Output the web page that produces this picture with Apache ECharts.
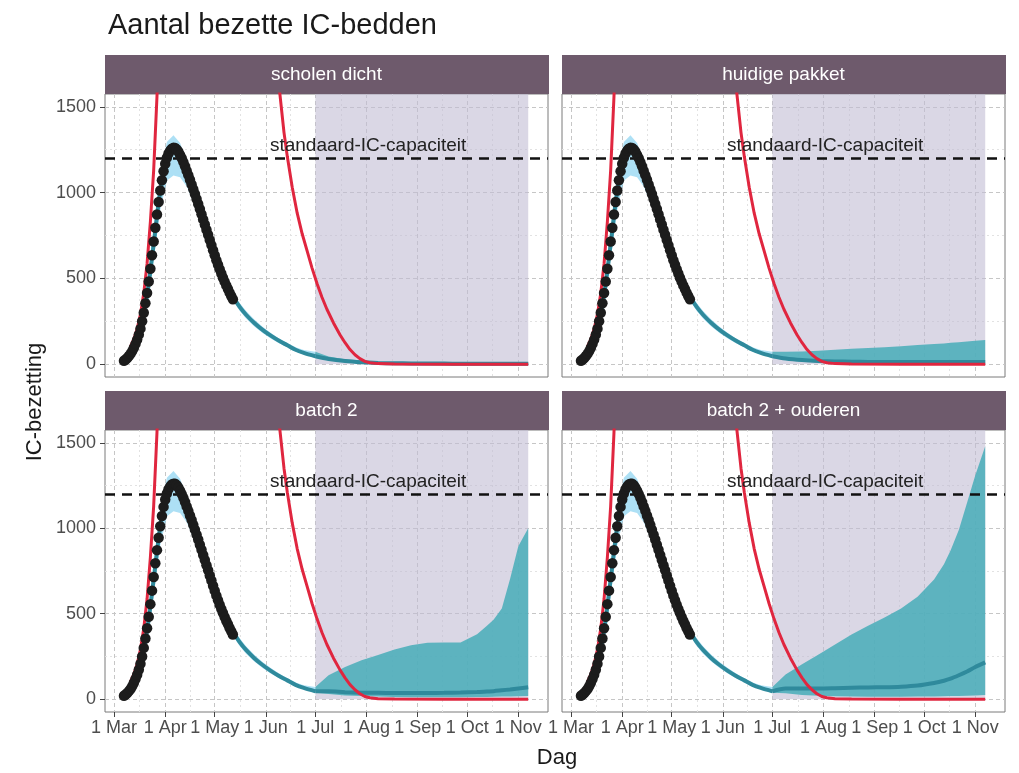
<!DOCTYPE html>
<html><head><meta charset="utf-8">
<script src="https://cdn.jsdelivr.net/npm/echarts@6/dist/echarts.min.js"></script>
<style>html,body{margin:0;padding:0;background:#fff}#c{width:1019px;height:773px}</style>
</head><body><div id="c"></div>
<script>
// ---------- data ----------
const chartTitle = 'Aantal bezette IC-bedden';
const yAxisTitle = 'IC-bezetting';
const xAxisTitle = 'Dag';
const panelTitles = ['scholen dicht', 'huidige pakket', 'batch 2', 'batch 2 + ouderen'];

// x in days since 1 March
const monthDays = [0, 31, 61, 92, 122, 153, 184, 214, 245];
const tickLabels = ['1 Mar', '1 Apr', '1 May', '1 Jun', '1 Jul', '1 Aug', '1 Sep', '1 Oct', '1 Nov'];
const minorXDays = [15.5, 46, 76.5, 107, 137.5, 168.5, 199, 229.5];
const yTicks = [0, 500, 1000, 1500];
const yMinorTicks = [250, 750, 1250];

const capacity = 1200;
const capacityLabel = 'standaard-IC-capaciteit';
const capacityLabelDay = 154;
const capacityLabelValue = 1272;
const scenarioStart = 122;
const scenarioEnd = 251;

// observed IC occupancy, daily from day 6
const obsStartDay = 6;
const obsValues = [20, 27, 36, 47, 60, 76, 96, 118, 143, 172, 207, 250, 300, 355, 415, 482, 556, 635, 715, 795,
  872, 945, 1012, 1072, 1125, 1168, 1203, 1228, 1245, 1256, 1261, 1260, 1252, 1238, 1220, 1200, 1178, 1154, 1128,
  1102, 1075, 1048, 1020, 992, 963, 934, 904, 874, 844, 814, 784, 754, 724, 694, 664, 635, 606, 579, 553, 528,
  504, 481, 459, 438, 417, 397, 378];

// model fit (common to all scenarios)
const modelDays = [4, 8, 12, 16, 20, 24, 28, 32, 36, 40, 44, 48, 52, 56, 60, 64, 68, 72, 76, 80, 85, 90, 95, 100, 105, 110, 115, 122];
const modelMedian = [10, 32, 90, 200, 400, 700, 1010, 1200, 1255, 1215, 1125, 1010, 900, 790, 680, 575, 480, 395, 335, 288, 240, 200, 166, 136, 110, 84, 66, 46];
const bandLower = [5, 22, 70, 165, 340, 610, 900, 1070, 1100, 1090, 1035, 945, 845, 745, 645, 545, 455, 372, 312, 266, 220, 182, 150, 122, 98, 74, 56, 38];
const bandUpper = [18, 48, 115, 240, 465, 790, 1110, 1295, 1335, 1290, 1190, 1072, 957, 838, 722, 612, 512, 422, 358, 310, 260, 218, 182, 150, 123, 98, 82, 72];

// scenario projections
const scenDays = [122, 130, 140, 150, 160, 170, 180, 190, 200, 210, 220, 226, 230, 235, 240, 245, 251];
const scenMedian = [
  [46, 30, 18, 11, 7, 5, 4, 3, 3, 2, 2, 2, 2, 2, 2, 2, 2],
  [46, 33, 24, 19, 16, 14, 13, 13, 13, 13, 13, 13, 13, 13, 13, 13, 13],
  [46, 46, 41, 38, 37, 36, 36, 36, 37, 39, 42, 45, 47, 52, 57, 63, 70],
  [46, 62, 62, 62, 64, 67, 69, 70, 73, 80, 95, 108, 120, 140, 162, 188, 215]
];
const scenLower = [
  [38, 23, 12, 6, 3, 2, 1, 1, 1, 0, 0, 0, 0, 0, 0, 0, 0],
  [38, 25, 15, 9, 6, 4, 3, 3, 3, 3, 3, 3, 3, 3, 3, 3, 3],
  [38, 30, 22, 18, 15, 13, 12, 12, 12, 12, 13, 13, 14, 15, 16, 17, 18],
  [38, 35, 25, 20, 17, 15, 14, 14, 14, 15, 16, 17, 18, 19, 20, 22, 24]
];
const scenUpper = [
  [72, 45, 29, 19, 13, 10, 9, 8, 8, 8, 8, 8, 8, 8, 8, 8, 9],
  [72, 72, 74, 78, 84, 89, 94, 99, 105, 111, 117, 121, 124, 128, 132, 136, 140],
  [72, 140, 188, 228, 258, 290, 316, 330, 331, 331, 380, 430, 465, 530, 703, 895, 1000],
  [72, 145, 205, 262, 320, 378, 430, 478, 530, 600, 700, 790, 870, 990, 1150, 1310, 1480]
];

// red curve
const redDays = [10, 12, 14, 16, 18, 20, 22, 24, 26, 28, 32, 40, 50, 60, 70, 80, 90, 95, 100, 103, 105, 108, 111, 114, 117,
  120, 123, 126, 129, 133, 137, 140, 143, 146, 149, 152, 155, 160, 170, 200, 251];
const redValues = [103, 146, 206, 292, 414, 586, 830, 1130, 1560, 2100, 3800, 9000, 15000, 15000, 11000, 6500, 3400, 2400,
  1620, 1350, 1210, 1030, 880, 760, 660, 560, 470, 390, 320, 240, 170, 125, 85, 55, 32, 16, 8, 3, 1, 0, 0];

// ---------- layout / style ----------
const FONT = 'Liberation Sans, Arial, Helvetica, sans-serif';
const grids = [
  {left: 105, top: 94, width: 443, height: 283},
  {left: 562, top: 94, width: 443, height: 283},
  {left: 105, top: 430, width: 443, height: 282},
  {left: 562, top: 430, width: 443, height: 282}
];
const STRIP_H = 39;
const X_MIN = -5.5, X_MAX = 263, Y_MIN = -75, Y_MAX = 1575;

const pairs = (xs, ys) => xs.map((x, k) => [x, ys[k]]);
const obsData = obsValues.map((v, k) => [obsStartDay + k, v]);

function bandSeries(xs, lo, hi, color, ax, z) {
  const data = xs.map((x, k) => [x, lo[k], hi[k]]);
  return Object.assign({
    type: 'custom', data, z, silent: true, clip: true,
    encode: {x: 0, y: [1, 2]},
    renderItem: (params, api) => {
      if (params.dataIndex !== 0) return null;
      const pts = [];
      data.forEach(d => pts.push(api.coord([d[0], d[2]])));
      for (let k = data.length - 1; k >= 0; k--) pts.push(api.coord([data[k][0], data[k][1]]));
      return {type: 'polygon', shape: {points: pts}, style: {fill: color}};
    }
  }, ax);
}

const xAxis = [], yAxis = [], series = [], graphic = [];

grids.forEach((g, i) => {
  const bottomRow = i >= 2, leftCol = i % 2 === 0;
  xAxis.push({
    type: 'value', gridIndex: i, min: X_MIN, max: X_MAX,
    axisLine: {show: false, onZero: false},
    axisTick: {show: bottomRow, customValues: monthDays, length: 5, lineStyle: {color: '#444'}},
    axisLabel: {show: bottomRow, customValues: monthDays,
      formatter: v => { const k = monthDays.indexOf(v); return k >= 0 ? tickLabels[k] : ''; },
      fontSize: 18, color: '#4d4d4d', fontFamily: FONT, margin: 7},
    splitLine: {show: true, lineStyle: {color: '#c6c6c6', type: [4, 3], width: 1}}
  });
  xAxis.push({
    type: 'value', gridIndex: i, min: X_MIN, max: X_MAX, position: 'bottom',
    axisLine: {show: false, onZero: false},
    axisTick: {show: false, customValues: minorXDays},
    axisLabel: {show: false, customValues: minorXDays},
    splitLine: {show: true, lineStyle: {color: '#e2e2e2', type: [2, 3], width: 1}}
  });
  yAxis.push({
    type: 'value', gridIndex: i, min: Y_MIN, max: Y_MAX,
    axisLine: {show: false, onZero: false},
    axisTick: {show: leftCol, customValues: yTicks, length: 5, lineStyle: {color: '#444'}},
    axisLabel: {show: leftCol, customValues: yTicks, formatter: v => String(v),
      fontSize: 18, color: '#4d4d4d', fontFamily: FONT, margin: 9},
    splitLine: {show: true, lineStyle: {color: '#c6c6c6', type: [4, 3], width: 1}}
  });
  yAxis.push({
    type: 'value', gridIndex: i, min: Y_MIN, max: Y_MAX, position: 'left',
    axisLine: {show: false, onZero: false},
    axisTick: {show: false, customValues: yMinorTicks},
    axisLabel: {show: false, customValues: yMinorTicks},
    splitLine: {show: true, lineStyle: {color: '#e2e2e2', type: [2, 3], width: 1}}
  });

  const ax = {xAxisIndex: 2 * i, yAxisIndex: 2 * i};
  // grey scenario period
  series.push(Object.assign({
    type: 'line', data: [[scenarioStart, 0]], symbol: 'none', lineStyle: {opacity: 0}, z: 1, silent: true,
    markArea: {silent: true, itemStyle: {color: 'rgba(194,189,212,0.6)'},
      data: [[{xAxis: scenarioStart, yAxis: 0}, {xAxis: scenarioEnd, yAxis: Y_MAX}]]}
  }, ax));
  // uncertainty bands
  series.push(bandSeries(modelDays, bandLower, bandUpper, 'rgba(105,198,236,0.55)', ax, 2));
  series.push(bandSeries(scenDays, scenLower[i], scenUpper[i], 'rgba(70,173,185,0.85)', ax, 2));
  // model median
  series.push(Object.assign({
    type: 'line', data: pairs(modelDays, modelMedian), symbol: 'none', smooth: 0.3,
    lineStyle: {color: '#2f8a9c', width: 4}, z: 3, silent: true
  }, ax));
  series.push(Object.assign({
    type: 'line', data: pairs(scenDays, scenMedian[i]), symbol: 'none', smooth: 0.3,
    lineStyle: {color: '#2f8a9c', width: 4}, z: 3, silent: true
  }, ax));
  // red curve
  series.push(Object.assign({
    type: 'line', data: pairs(redDays, redValues), symbol: 'none', clip: true,
    lineStyle: {color: '#e0263f', width: 3}, z: 4, silent: true
  }, ax));
  // observations + capacity line + label
  series.push(Object.assign({
    type: 'scatter', data: obsData, symbol: 'circle', symbolSize: 10.5,
    itemStyle: {color: '#1c1c1c', opacity: 1}, z: 5, silent: true,
    markLine: {silent: true, symbol: ['none', 'none'], label: {show: false},
      lineStyle: {color: '#111', width: 2.5, type: [10, 7]}, data: [{yAxis: capacity}]},
    markPoint: {silent: true, symbol: 'circle', symbolSize: 1, itemStyle: {color: 'rgba(0,0,0,0)'},
      label: {show: true, position: 'inside', formatter: capacityLabel, fontSize: 19, color: '#222', fontFamily: FONT},
      data: [{coord: [capacityLabelDay, capacityLabelValue]}]}
  }, ax));

  // facet strip
  graphic.push({type: 'rect', shape: {x: g.left, y: g.top - STRIP_H, width: g.width + 1, height: STRIP_H},
    style: {fill: '#6e5a6c'}, silent: true});
  graphic.push({type: 'text', x: g.left + g.width / 2, y: g.top - STRIP_H / 2,
    style: {text: panelTitles[i], fill: '#fff', fontSize: 19, fontFamily: FONT, textAlign: 'center', textVerticalAlign: 'middle'}, silent: true});
});

graphic.push({type: 'text', x: 35, y: 402, rotation: Math.PI / 2,
  style: {text: yAxisTitle, fill: '#1a1a1a', fontSize: 22, fontFamily: FONT, textAlign: 'center', textVerticalAlign: 'middle'}});
graphic.push({type: 'text', x: 557, y: 758,
  style: {text: xAxisTitle, fill: '#1a1a1a', fontSize: 22, fontFamily: FONT, textAlign: 'center', textVerticalAlign: 'middle'}});

const chart = echarts.init(document.getElementById('c'));
chart.setOption({
  animation: false,
  backgroundColor: '#fff',
  title: {text: chartTitle, left: 103, top: 6,
    textStyle: {fontSize: 29, fontWeight: 'normal', color: '#1a1a1a', fontFamily: FONT}},
  grid: grids.map(g => Object.assign({show: true, borderColor: '#7a7a7a', borderWidth: 1, backgroundColor: '#fff', containLabel: false}, g)),
  xAxis, yAxis, series, graphic
});
</script>
</body></html>
